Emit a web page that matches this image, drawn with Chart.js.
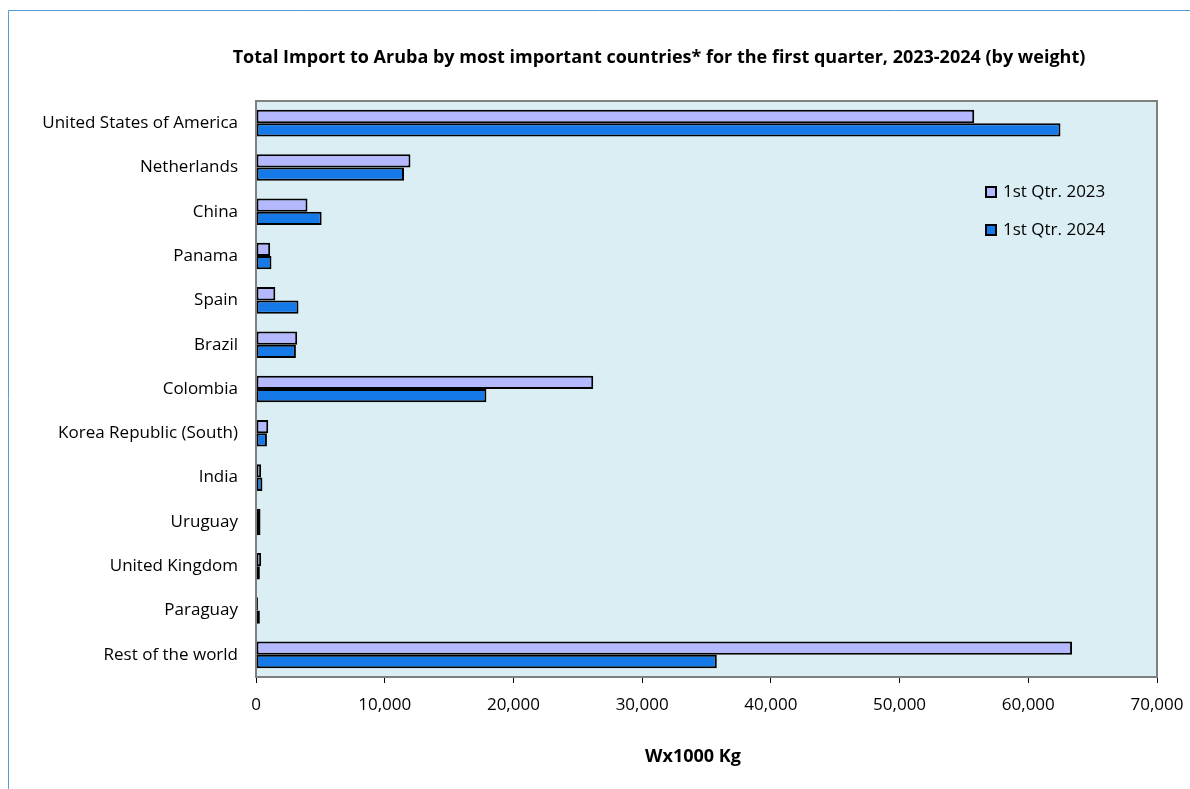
<!DOCTYPE html>
<html>
<head>
<meta charset="utf-8">
<script src="https://cdn.jsdelivr.net/npm/chart.js@4.4.1/dist/chart.umd.min.js"></script>
<style>
  html, body { margin: 0; padding: 0; background: #fff; }
  #wrap { width: 1190px; height: 789px; position: relative; }
</style>
</head>
<body>
<div id="wrap"><canvas id="chart"></canvas></div>
<script>
// Data (x1000 kg)
const countries = ['United States of America', 'Netherlands', 'China', 'Panama', 'Spain', 'Brazil',
    'Colombia', 'Korea Republic (South)', 'India', 'Uruguay', 'United Kingdom', 'Paraguay', 'Rest of the world'];
const q1_2023 = [55800, 12000, 4000, 1100, 1500, 3200, 26200, 950, 400, 350, 400, 150, 63400];
const q1_2024 = [62500, 11500, 5100, 1200, 3300, 3100, 17900, 850, 500, 350, 300, 300, 35800];
const xTicks = [0, 10000, 20000, 30000, 40000, 50000, 60000, 70000];

const chartTitle = 'Total Import to Aruba by most important countries* for the first quarter, 2023-2024 (by weight)';
const axisTitle = 'Wx1000 Kg';

const FONT = '"Open Sans", sans-serif';

// plot background, frame, titles and legend
const decor = {
    id: 'decor',
    beforeDraw(chart) {
        const ctx = chart.ctx;
        const a = chart.chartArea;
        ctx.save();
        ctx.fillStyle = '#daeef3';
        ctx.fillRect(a.left, a.top, a.right - a.left, a.bottom - a.top);
        // outer blue frame
        ctx.strokeStyle = '#5b9bd5';
        ctx.lineWidth = 1;
        ctx.beginPath();
        ctx.moveTo(8.5, 789);
        ctx.lineTo(8.5, 10.5);
        ctx.lineTo(1190, 10.5);
        ctx.stroke();
        // titles
        ctx.fillStyle = '#000';
        ctx.textAlign = 'center';
        ctx.textBaseline = 'middle';
        ctx.font = 'bold 18px ' + FONT;
        ctx.fillText(chartTitle, 659, 58);
        ctx.fillText(axisTitle, 693, 757);
        ctx.restore();
    },
    afterDatasetsDraw(chart) {
        const ctx = chart.ctx;
        const a = chart.chartArea;
        ctx.save();
        ctx.strokeStyle = '#808080';
        ctx.lineWidth = 2;
        ctx.strokeRect(a.left, a.top, a.right - a.left, a.bottom - a.top);
        // legend
        ctx.font = '17px ' + FONT;
        ctx.textBaseline = 'middle';
        chart.data.datasets.forEach((ds, i) => {
            const y = 192 + i * 38;
            ctx.fillStyle = ds.backgroundColor;
            ctx.fillRect(986, y - 5, 10, 10);
            ctx.strokeStyle = '#000';
            ctx.lineWidth = 2;
            ctx.strokeRect(986, y - 5, 10, 10);
            ctx.fillStyle = '#000';
            ctx.fillText(ds.label, 1003, y);
        });
        ctx.restore();
    }
};

new Chart(document.getElementById('chart'), {
    type: 'bar',
    data: {
        labels: countries,
        datasets: [{
            label: '1st Qtr. 2023',
            data: q1_2023,
            backgroundColor: '#b3b8ff',
            borderColor: '#000',
            borderWidth: 2,
            borderSkipped: false
        }, {
            label: '1st Qtr. 2024',
            data: q1_2024,
            backgroundColor: '#1579e8',
            borderColor: '#000',
            borderWidth: 2,
            borderSkipped: false
        }]
    },
    options: {
        indexAxis: 'y',
        responsive: true,
        maintainAspectRatio: false,
        animation: false,
        datasets: {
            bar: { categoryPercentage: 0.6, barPercentage: 1.0 }
        },
        layout: { padding: { left: 0, right: 33, top: 101, bottom: 0 } },
        plugins: {
            legend: { display: false },
            tooltip: { enabled: false },
            title: { display: false }
        },
        scales: {
            x: {
                min: 0,
                max: 70000,
                afterBuildTicks(scale) {
                    scale.ticks = xTicks.map(v => ({ value: v }));
                },
                afterFit(scale) {
                    scale.height = 112;
                    scale.paddingLeft = 0;
                    scale.paddingRight = 0;
                },
                grid: { drawOnChartArea: false, drawTicks: true, tickLength: 6, color: '#000' },
                border: { display: false },
                ticks: {
                    color: '#000',
                    padding: 12,
                    maxRotation: 0,
                    font: { family: FONT, size: 17 },
                    callback: v => v.toLocaleString('en-US')
                }
            },
            y: {
                afterFit(scale) { scale.width = 256; },
                grid: { drawOnChartArea: false, drawTicks: false },
                border: { display: false },
                ticks: {
                    color: '#000',
                    padding: 18,
                    font: { family: FONT, size: 17 }
                }
            }
        }
    },
    plugins: [decor]
});
</script>
</body>
</html>
